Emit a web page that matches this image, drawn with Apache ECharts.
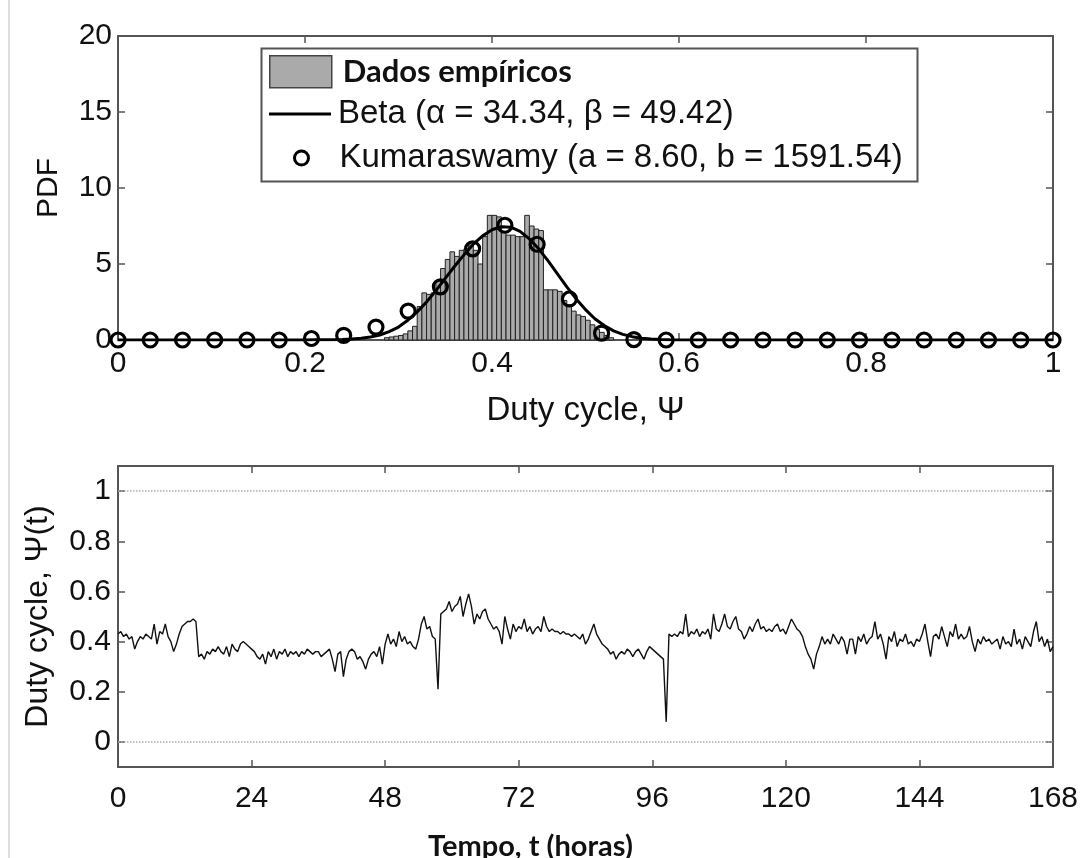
<!DOCTYPE html>
<html><head><meta charset="utf-8">
<script src="https://cdn.jsdelivr.net/npm/echarts@6/dist/echarts.min.js"></script>
<style>html,body{margin:0;padding:0;background:#fff}#c{width:1087px;height:858px}</style>
</head><body><div id="c"></div>
<script>
// ---------- DATA ----------
// Histogram of empirical duty cycle (bin left edges, width, PDF heights)
const histBinWidth = 0.005;
const histBinLeft = [0.285,0.290,0.295,0.300,0.305,0.310,0.315,0.320,0.325,0.330,0.335,0.340,0.345,0.350,0.355,0.360,0.365,0.370,0.375,0.380,0.385,0.390,0.395,0.400,0.405,0.410,0.415,0.420,0.425,0.430,0.435,0.440,0.445,0.450,0.455,0.460,0.465,0.470,0.475,0.480,0.485,0.490,0.495,0.500,0.505,0.510,0.515,0.520,0.525];
const histPdf = [0.15,0.2,0.25,0.3,0.4,0.6,0.9,2.2,3.1,3.0,3.1,3.9,4.7,5.3,5.8,5.5,5.9,6.0,6.25,5.9,5.0,6.8,8.2,8.2,8.1,7.1,6.9,6.9,6.8,6.8,8.2,7.5,7.3,7.2,3.3,3.3,3.3,3.2,2.6,2.3,1.9,1.65,1.55,1.3,1.0,0.7,0.5,0.3,0.15];

// Beta fit curve
const betaX = [0,0.20,0.21,0.22,0.23,0.24,0.25,0.26,0.27,0.28,0.29,0.30,0.31,0.32,0.33,0.34,0.35,0.36,0.37,0.38,0.39,0.40,0.41,0.42,0.43,0.44,0.45,0.46,0.47,0.48,0.49,0.50,0.51,0.52,0.53,0.54,0.55,0.56,0.57,0.58,0.59,0.60,1];
const betaY = [0,0,0.01,0.01,0.02,0.04,0.07,0.12,0.2,0.33,0.55,0.85,1.3,1.85,2.5,3.25,4.05,4.85,5.6,6.3,6.85,7.25,7.45,7.42,7.15,6.65,6.0,5.2,4.35,3.5,2.7,2.0,1.4,0.95,0.6,0.37,0.22,0.12,0.06,0.03,0.01,0,0];

// Kumaraswamy fit markers
const kumaX = [0,0.0345,0.0690,0.1034,0.1379,0.1724,0.2069,0.2414,0.2759,0.3103,0.3448,0.3793,0.4138,0.4483,0.4828,0.5172,0.5517,0.5862,0.6207,0.6552,0.6897,0.7241,0.7586,0.7931,0.8276,0.8621,0.8966,0.9310,0.9655,1];
const kumaY = [0,0,0,0,0,0,0.1,0.3,0.85,1.9,3.5,6.0,7.55,6.3,2.7,0.45,0.03,0,0,0,0,0,0,0,0,0,0,0,0,0];

// Duty cycle time series, one value every 0.5 h from 0 to 168 h
const timeStepHours = 0.5;
const dutyCycle = [
 0.43,0.44,0.42,0.43,0.41,0.42,0.37,0.40,0.42,0.41,0.43,0.42,0.41,0.47,0.39,0.44,0.43,0.47,0.42,0.40,0.36,0.39,0.43,0.46,
 0.47,0.48,0.48,0.49,0.48,0.34,0.35,0.33,0.36,0.35,0.37,0.36,0.38,0.36,0.35,0.38,0.34,0.39,0.37,0.36,0.39,0.40,0.39,0.38,
 0.37,0.36,0.34,0.33,0.35,0.31,0.36,0.34,0.37,0.33,0.36,0.35,0.37,0.34,0.36,0.35,0.36,0.34,0.36,0.35,0.37,0.36,0.35,0.36,
 0.36,0.34,0.35,0.36,0.37,0.33,0.28,0.35,0.36,0.26,0.33,0.36,0.37,0.36,0.33,0.34,0.32,0.29,0.33,0.35,0.36,0.34,0.38,0.31,
 0.39,0.43,0.39,0.41,0.38,0.44,0.40,0.42,0.39,0.40,0.38,0.37,0.41,0.47,0.50,0.45,0.46,0.42,0.41,0.21,0.51,0.52,0.53,0.56,
 0.52,0.54,0.55,0.58,0.50,0.55,0.59,0.54,0.47,0.51,0.49,0.52,0.53,0.49,0.47,0.45,0.46,0.44,0.39,0.50,0.45,0.41,0.47,0.44,
 0.46,0.45,0.49,0.44,0.46,0.43,0.45,0.46,0.44,0.50,0.46,0.44,0.45,0.44,0.44,0.43,0.44,0.43,0.43,0.42,0.43,0.42,0.41,0.43,
 0.39,0.41,0.44,0.47,0.43,0.41,0.39,0.38,0.37,0.35,0.36,0.33,0.35,0.36,0.35,0.37,0.36,0.34,0.36,0.37,0.35,0.33,0.36,0.38,
 0.37,0.36,0.35,0.34,0.33,0.08,0.43,0.42,0.43,0.42,0.44,0.43,0.51,0.42,0.44,0.43,0.45,0.42,0.44,0.43,0.45,0.41,0.51,0.45,
 0.44,0.47,0.51,0.46,0.45,0.48,0.50,0.45,0.44,0.41,0.43,0.46,0.44,0.47,0.49,0.45,0.46,0.44,0.45,0.44,0.46,0.47,0.44,0.45,
 0.43,0.46,0.49,0.47,0.45,0.44,0.42,0.38,0.35,0.33,0.29,0.35,0.38,0.42,0.39,0.41,0.39,0.43,0.41,0.39,0.42,0.40,0.35,0.41,
 0.41,0.35,0.42,0.40,0.43,0.39,0.41,0.42,0.48,0.41,0.43,0.39,0.33,0.42,0.40,0.44,0.38,0.41,0.40,0.43,0.39,0.40,0.38,0.41,
 0.40,0.43,0.47,0.40,0.34,0.42,0.43,0.41,0.46,0.42,0.38,0.44,0.42,0.47,0.41,0.43,0.41,0.42,0.46,0.40,0.36,0.41,0.39,0.42,
 0.40,0.41,0.39,0.40,0.41,0.37,0.42,0.39,0.40,0.38,0.45,0.39,0.41,0.37,0.42,0.40,0.38,0.44,0.48,0.40,0.42,0.38,0.41,0.36,
 0.38
];

const legendNames = ['Dados empíricos','Beta (α = 34.34, β = 49.42)','Kumaraswamy (a = 8.60, b = 1591.54)'];

// ---------- CHART ----------
const chart = echarts.init(document.getElementById('c'), null, {renderer:'canvas'});
const AX = '#555';
const FONT = '"Liberation Sans", Arial, sans-serif';
const TXT = '#111';

function axisCommon(showLabel, labelMargin){
  return {
    axisLine:{show:true, onZero:false, lineStyle:{color:AX, width:2}},
    axisTick:{show:true, inside:true, length:7, lineStyle:{color:AX, width:1.5}},
    splitLine:{show:false},
    axisLabel:{show:showLabel, fontFamily:FONT, fontSize:30, color:TXT, margin:labelMargin}
  };
}

const option = {
  animation:false,
  backgroundColor:'#fff',
  grid:[
    {left:118, top:36, width:935, height:304},
    {left:118, top:466, width:935, height:301}
  ],
  xAxis:[
    Object.assign({gridIndex:0, type:'value', min:0, max:1, interval:0.2, position:'bottom',
      name:'Duty cycle, Ψ', nameLocation:'middle', nameGap:54,
      nameTextStyle:{fontFamily:FONT, fontSize:33, color:TXT}}, axisCommon(true, 9)),
    Object.assign({gridIndex:0, type:'value', min:0, max:1, interval:0.2, position:'top'}, axisCommon(false, 8)),
    Object.assign({gridIndex:1, type:'value', min:0, max:168, interval:24, position:'bottom'}, axisCommon(true, 17)),
    Object.assign({gridIndex:1, type:'value', min:0, max:168, interval:24, position:'top'}, axisCommon(false, 14))
  ],
  yAxis:[
    Object.assign({gridIndex:0, type:'value', min:0, max:20, interval:5, position:'left',
      name:'PDF', nameLocation:'middle', nameGap:54,
      nameTextStyle:{fontFamily:FONT, fontSize:30, color:TXT}}, axisCommon(true, 6)),
    Object.assign({gridIndex:0, type:'value', min:0, max:20, interval:5, position:'right'}, axisCommon(false, 6)),
    (function(){
      const a = Object.assign({gridIndex:1, type:'value', min:-0.1, max:1.1, position:'left',
        name:'Duty cycle, Ψ(t)', nameLocation:'middle', nameGap:64,
        nameTextStyle:{fontFamily:FONT, fontSize:32, color:TXT}}, axisCommon(true, 7));
      a.axisLabel.formatter = v => (Math.abs(v*5 - Math.round(v*5)) < 1e-6) ? String(+v.toFixed(1)) : '';
      return a;
    })(),
    Object.assign({gridIndex:1, type:'value', min:-0.1, max:1.1, position:'right'}, axisCommon(false, 7))
  ],
  legend:[
    {data:[{name:legendNames[0], icon:'rect', itemStyle:{color:'#aaaaaa', borderColor:'#444', borderWidth:1.5}}],
     left:269, top:55, itemWidth:62, itemHeight:32, padding:0, selectedMode:false,
     textStyle:{fontFamily:'Lato', fontWeight:'bold', fontSize:31, color:TXT, lineHeight:32, padding:[0,0,0,6]}},
    {data:[{name:legendNames[1], icon:'rect', itemStyle:{color:'#000', borderWidth:0}}],
     left:269, top:96, itemWidth:62, itemHeight:3, padding:0, selectedMode:false,
     textStyle:{fontFamily:FONT, fontSize:33, color:TXT, lineHeight:36, padding:[0,0,0,2]}},
    {data:[{name:legendNames[2], icon:'circle', itemStyle:{color:'rgba(255,255,255,0)', borderColor:'#000', borderWidth:3}}],
     left:293, top:140, itemWidth:14, itemHeight:14, padding:0, selectedMode:false,
     textStyle:{fontFamily:FONT, fontSize:33, color:TXT, lineHeight:36, padding:[0,0,0,26]}}
  ],
  graphic:[
    {type:'rect', left:8, top:0, shape:{width:2, height:858}, style:{fill:'#dddddd'}, silent:true},
    {type:'rect', left:259, top:46, shape:{width:656, height:133}, style:{fill:'none', stroke:'#555', lineWidth:2}, z:1, silent:true},
    {type:'text', left:428, top:832, style:{text:'Tempo, t (horas)', font:'bold 29px Lato', fill:TXT}, silent:true}
  ],
  series:[
    {
      name:legendNames[0], type:'custom', xAxisIndex:0, yAxisIndex:0, z:2,
      data: histBinLeft.map((l,i)=>[l, l+histBinWidth, histPdf[i]]),
      encode:{x:[0,1], y:2},
      itemStyle:{color:'#aaaaaa'},
      renderItem:(params, api)=>{
        const p0 = api.coord([api.value(0), api.value(2)]);
        const p1 = api.coord([api.value(1), 0]);
        return {type:'rect', shape:{x:p0[0], y:p0[1], width:p1[0]-p0[0], height:p1[1]-p0[1]},
          style:{fill:'#aaaaaa', stroke:'#222', lineWidth:1}};
      }
    },
    {
      name:legendNames[1], type:'line', xAxisIndex:0, yAxisIndex:0, z:3,
      data: betaX.map((x,i)=>[x, betaY[i]]), symbol:'none', smooth:false,
      lineStyle:{color:'#000', width:3}, itemStyle:{color:'#000'}
    },
    {
      name:legendNames[2], type:'scatter', xAxisIndex:0, yAxisIndex:0, z:4,
      data: kumaX.map((x,i)=>[x, kumaY[i]]), symbol:'circle', symbolSize:14,
      itemStyle:{color:'rgba(255,255,255,0)', borderColor:'#000', borderWidth:3.2, opacity:1}
    },
    {
      name:'Duty cycle', type:'line', xAxisIndex:2, yAxisIndex:2, z:3,
      data: dutyCycle.map((v,i)=>[i*timeStepHours, v]), symbol:'none',
      lineStyle:{color:'#111', width:1.4},
      markLine:{silent:true, symbol:['none','none'], label:{show:false},
        lineStyle:{type:'dotted', color:'#aaa', width:1.5},
        data:[{yAxis:0},{yAxis:1}]}
    }
  ]
};
chart.setOption(option);
</script>
</body></html>
